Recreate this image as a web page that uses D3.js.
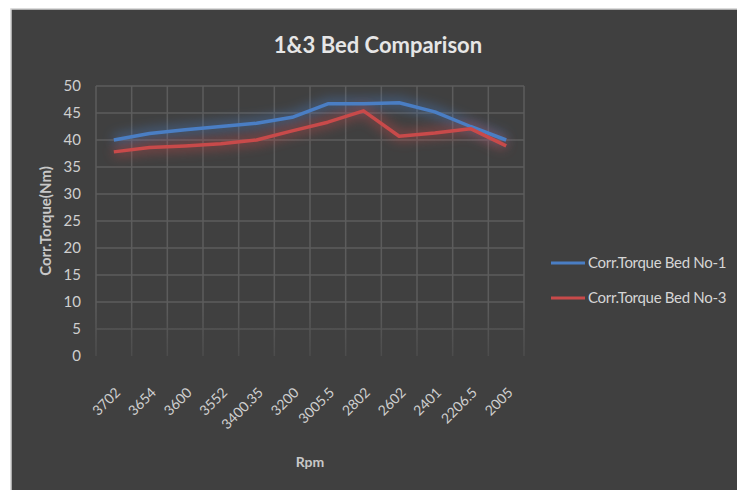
<!DOCTYPE html>
<html>
<head>
<meta charset="utf-8">
<script src="https://cdn.jsdelivr.net/npm/d3@7"></script>
<style>
  body { margin: 0; background: #fff; }
  svg { display: block; }
  text { font-family: Lato, "Open Sans", sans-serif; }
</style>
</head>
<body>
<svg width="737" height="490"></svg>
<script>
const rpm = ["3702", "3654", "3600", "3552", "3400.35", "3200", "3005.5", "2802", "2602", "2401", "2206.5", "2005"];
const bed1 = [40.0, 41.2, 41.9, 42.5, 43.1, 44.2, 46.7, 46.7, 46.9, 45.2, 42.5, 40.0];
const bed3 = [37.8, 38.6, 38.9, 39.3, 40.0, 41.7, 43.3, 45.4, 40.7, 41.3, 42.1, 38.9];
const yTicks = [0, 5, 10, 15, 20, 25, 30, 35, 40, 45, 50];
const seriesNames = ["Corr.Torque Bed No-1", "Corr.Torque Bed No-3"];
const colors = ["#4a7ec4", "#c84a4a"];

const margin = { top: 86, left: 96 },
    width = 428,
    height = 270;

const svg = d3.select("svg");

// dark panel
svg.append("rect")
    .attr("x", 11).attr("y", 9)
    .attr("width", 737).attr("height", 490)
    .attr("fill", "#404040")
    .attr("stroke", "#d0d0d0")
    .attr("stroke-width", 1.5);

const defs = svg.append("defs");
const fade = defs.append("linearGradient")
    .attr("id", "gridFade")
    .attr("gradientUnits", "userSpaceOnUse")
    .attr("x1", 0).attr("y1", margin.top)
    .attr("x2", 0).attr("y2", margin.top + height);
fade.append("stop").attr("offset", "0.5").attr("stop-color", "#5c5c5c");
fade.append("stop").attr("offset", "0.82").attr("stop-color", "#404040");
defs.append("filter").attr("id", "glow")
    .attr("x", "-20%").attr("y", "-100%").attr("width", "140%").attr("height", "300%")
    .append("feGaussianBlur").attr("stdDeviation", 6);

const g = svg.append("g")
    .attr("transform", "translate(" + margin.left + "," + margin.top + ")");

const x = d3.scaleBand().domain(rpm).range([0, width]);
const y = d3.scaleLinear().domain([0, 50]).range([height, 0]);

// grid
g.selectAll(".hgrid")
    .data(yTicks.filter(d => d > 0))
    .enter().append("line")
    .attr("x1", 0).attr("x2", width)
    .attr("y1", d => y(d)).attr("y2", d => y(d))
    .attr("stroke", d => d >= 25 ? "#5c5c5c" : "url(#gridFade)")
    .attr("stroke-width", 1.5);
g.selectAll(".vgrid")
    .data(d3.range(rpm.length + 1))
    .enter().append("line")
    .attr("x1", i => i * x.bandwidth()).attr("x2", i => i * x.bandwidth())
    .attr("y1", 0).attr("y2", height)
    .attr("stroke", "url(#gridFade)")
    .attr("stroke-width", 1.5);

// y axis labels
g.selectAll(".ytick")
    .data(yTicks)
    .enter().append("text")
    .attr("x", -15)
    .attr("y", d => y(d))
    .attr("dy", "0.35em")
    .attr("text-anchor", "end")
    .attr("fill", "#cfcfcf")
    .style("font-size", "15px")
    .text(d => d);

// x axis labels
g.selectAll(".xtick")
    .data(rpm)
    .enter().append("text")
    .attr("transform", d => "translate(" + (x(d) + x.bandwidth() / 2 + 4) + "," + (height + 34) + ")rotate(-45)")
    .attr("text-anchor", "end")
    .attr("dy", "0.35em")
    .attr("fill", "#cfcfcf")
    .style("font-size", "14px")
    .text(d => d);

// lines
const line = d3.line()
    .x((d, i) => x(rpm[i]) + x.bandwidth() / 2)
    .y(d => y(d));

[bed1, bed3].forEach((s, k) => {
    g.append("path").datum(s)
        .attr("d", line)
        .attr("fill", "none")
        .attr("stroke", colors[k])
        .attr("stroke-width", 10)
        .attr("opacity", 0.45)
        .attr("filter", "url(#glow)");
});
[bed1, bed3].forEach((s, k) => {
    g.append("path").datum(s)
        .attr("d", line)
        .attr("fill", "none")
        .attr("stroke", colors[k])
        .attr("stroke-width", 3.5)
        .attr("stroke-linejoin", "round");
});

// title
svg.append("text")
    .attr("x", 378).attr("y", 53)
    .attr("text-anchor", "middle")
    .attr("fill", "#e6e6e6")
    .style("font-size", "22px")
    .style("font-weight", "bold")
    .text("1&3 Bed Comparison");

// axis titles
svg.append("text")
    .attr("transform", "translate(51,221)rotate(-90)")
    .attr("text-anchor", "middle")
    .attr("fill", "#c8c8c8")
    .style("font-size", "15px")
    .style("font-weight", "bold")
    .text("Corr.Torque(Nm)");
svg.append("text")
    .attr("x", 310).attr("y", 467)
    .attr("text-anchor", "middle")
    .attr("fill", "#c8c8c8")
    .style("font-size", "14px")
    .style("font-weight", "bold")
    .text("Rpm");

// legend
const legend = svg.selectAll(".legend")
    .data(seriesNames)
    .enter().append("g")
    .attr("transform", (d, i) => "translate(551," + (263 + i * 35) + ")");
legend.append("line")
    .attr("x1", 0).attr("x2", 34)
    .attr("stroke", (d, i) => colors[i])
    .attr("stroke-width", 3);
legend.append("text")
    .attr("x", 37)
    .attr("dy", "0.35em")
    .attr("fill", "#d6d6d6")
    .style("font-size", "15px")
    .style("letter-spacing", "-0.3px")
    .text(d => d);
</script>
</body>
</html>
